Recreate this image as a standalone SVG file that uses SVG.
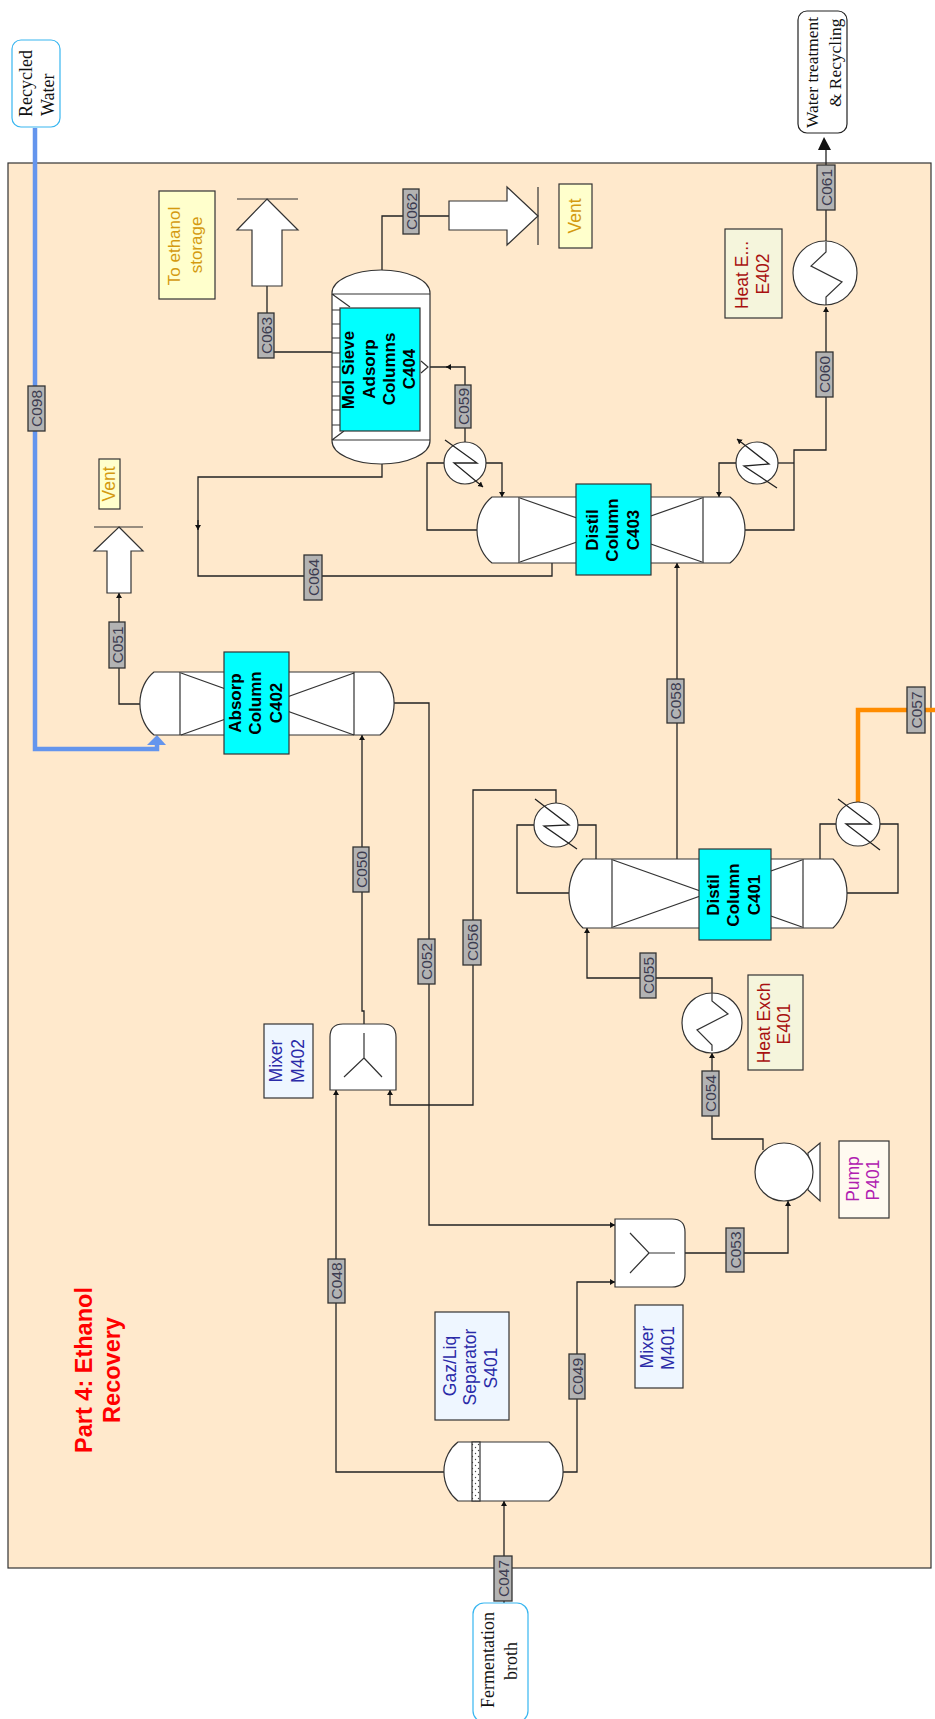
<svg xmlns="http://www.w3.org/2000/svg" width="935" height="1719" viewBox="0 0 935 1719">
<style>
.eq{fill:#fff;stroke:#333;stroke-width:1.2}
.ln{fill:none;stroke:#333;stroke-width:1.2}
.cn{fill:none;stroke:#222;stroke-width:1.3}
.ar{marker-end:url(#ah)}
.lb{fill:#b3b3b3;stroke:#333;stroke-width:1.3}
.tg{font:15.5px "Liberation Sans",Arial,sans-serif;fill:#3c3c50;text-anchor:middle}
.cy{fill:#0ff;stroke:#333;stroke-width:1.2}
.cyt{font:bold 17px "Liberation Sans",Arial,sans-serif;fill:#000;text-anchor:middle}
.nm{font:17.5px "Liberation Sans",Arial,sans-serif;text-anchor:middle}
.ter{font:18px "Liberation Serif","Times New Roman",serif;fill:#111}
.bx{stroke:#333;stroke-width:1.2}
.y{fill:#ffffcc}.yt{fill:#d49a10}
.g{fill:#f5f5dc}.gt{fill:#a81010}
.b{fill:#eef6ff}.bt{fill:#2a2aa8}
.p{fill:#fffaf0}.pt{fill:#b020b0}
</style>
<defs>
<marker id="ah" markerUnits="userSpaceOnUse" markerWidth="8" markerHeight="8" refX="5" refY="3" orient="auto"><path d="M0 0L5 3L0 6Z" fill="#111"/></marker>
<pattern id="mesh" width="6" height="6" patternUnits="userSpaceOnUse"><rect width="6" height="6" fill="#fff"/><circle cx="1.5" cy="1.5" r=".7" fill="#444"/><circle cx="4.5" cy="4.5" r=".7" fill="#444"/></pattern>
</defs>
<rect id="panel" x="8" y="163" width="923" height="1405" fill="#ffe9cc" stroke="#333" stroke-width="1.2"/>
<g id="connectors">
<path d="M35 128V749H157V742" fill="none" stroke="#6495ed" stroke-width="4.5"/>
<path d="M147 745L157 735L166 745Z" fill="#6495ed"/>
<path d="M858 803V710H935" fill="none" stroke="#ff8c00" stroke-width="4.5"/>
<path class="cn" d="M267 286V352H332"/>
<path class="cn" d="M382 270V216H449"/>
<path class="cn" d="M430 367H465V443"/>
<path class="cn ar" d="M450 367H446"/>
<path class="cn" d="M382 464V477H198V576H552V563"/>
<path class="cn ar" d="M198 520V530"/>
<path class="cn" d="M444 463H427V530H477"/>
<path class="cn ar" d="M486 463H502V497"/>
<path class="cn ar" d="M736 463H719V497"/>
<path class="cn" d="M778 463H794"/>
<path class="cn ar" d="M745 530H794V450H826V307"/>
<path class="cn" d="M826 242V148"/>
<path d="M818 150L824 137L831 150Z" fill="#111"/>
<path class="cn ar" d="M140 704H119V593"/>
<path class="cn ar" d="M394 703H429V1225H615"/>
<path class="cn ar" d="M364 1024V1011H362V735"/>
<path class="cn ar" d="M444 1472H336V1090"/>
<path class="cn ar" d="M563 1472H577V1282H615"/>
<path class="cn ar" d="M504 1603V1501"/>
<path class="cn ar" d="M556 803V790H473V1105H390V1090"/>
<path class="cn" d="M534 825H517V893H569"/>
<path class="cn" d="M578 825H596V859"/>
<path class="cn" d="M836 824H820V859"/>
<path class="cn" d="M880 824H898V893H847"/>
<path class="cn ar" d="M677 859V563"/>
<path class="cn ar" d="M712 992V978H587V928"/>
<path class="cn ar" d="M763 1150V1139H712V1053"/>
<path class="cn ar" d="M685 1253H788V1201"/>
<g id="stream-labels">
<rect class="lb" x="28" y="386" width="17" height="45"/><text class="tg" transform="translate(42,408.5) rotate(-90)">C098</text>
<rect class="lb" x="258" y="313" width="16" height="45"/><text class="tg" transform="translate(271.5,335.5) rotate(-90)">C063</text>
<rect class="lb" x="403" y="189" width="16" height="45"/><text class="tg" transform="translate(416.5,211.5) rotate(-90)">C062</text>
<rect class="lb" x="455" y="385" width="16" height="43"/><text class="tg" transform="translate(468.5,406.5) rotate(-90)">C059</text>
<rect class="lb" x="817" y="165" width="18" height="45"/><text class="tg" transform="translate(832,187.5) rotate(-90)">C061</text>
<rect class="lb" x="816" y="352" width="17" height="45"/><text class="tg" transform="translate(830,374.5) rotate(-90)">C060</text>
<rect class="lb" x="304" y="555" width="18" height="45"/><text class="tg" transform="translate(319,577.5) rotate(-90)">C064</text>
<rect class="lb" x="109" y="622" width="16" height="46"/><text class="tg" transform="translate(122.5,645) rotate(-90)">C051</text>
<rect class="lb" x="353" y="847" width="16" height="45"/><text class="tg" transform="translate(366.5,869.5) rotate(-90)">C050</text>
<rect class="lb" x="418" y="939" width="17" height="45"/><text class="tg" transform="translate(432,961.5) rotate(-90)">C052</text>
<rect class="lb" x="463" y="920" width="18" height="45"/><text class="tg" transform="translate(478,942.5) rotate(-90)">C056</text>
<rect class="lb" x="667" y="679" width="17" height="44"/><text class="tg" transform="translate(681,701) rotate(-90)">C058</text>
<rect class="lb" x="907" y="687" width="18" height="46"/><text class="tg" transform="translate(922,710) rotate(-90)">C057</text>
<rect class="lb" x="640" y="953" width="16" height="45"/><text class="tg" transform="translate(653.5,975.5) rotate(-90)">C055</text>
<rect class="lb" x="702" y="1071" width="17" height="45"/><text class="tg" transform="translate(716,1093.5) rotate(-90)">C054</text>
<rect class="lb" x="726" y="1228" width="18" height="44"/><text class="tg" transform="translate(741,1250) rotate(-90)">C053</text>
<rect class="lb" x="328" y="1259" width="17" height="44"/><text class="tg" transform="translate(342,1281) rotate(-90)">C048</text>
<rect class="lb" x="569" y="1354" width="16" height="45"/><text class="tg" transform="translate(582.5,1376.5) rotate(-90)">C049</text>
<rect class="lb" x="494" y="1556" width="18" height="45"/><text class="tg" transform="translate(509,1578.5) rotate(-90)">C047</text>
</g>
</g>
<g id="recycled-water">
<rect x="12" y="40" width="48" height="87" rx="9" fill="#fff" stroke="#38b6f0" stroke-width="1.2"/>
<text class="ter" transform="translate(32,117) rotate(-90)">Recycled</text>
<text class="ter" transform="translate(54,116) rotate(-90)">Water</text>
</g>
<g id="water-treatment">
<rect x="798" y="11" width="49" height="122" rx="9" fill="#fff" stroke="#222" stroke-width="1.2"/>
<text class="ter" style="font-size:17.4px" transform="translate(818,128) rotate(-90)">Water treatment</text>
<text class="ter" style="font-size:17.4px" transform="translate(841,107) rotate(-90)">&amp; Recycling</text>
</g>
<g id="fermentation-broth">
<rect x="473" y="1603" width="55" height="119" rx="11" fill="#fff" stroke="#38b6f0" stroke-width="1.2"/>
<text class="ter" transform="translate(494,1708) rotate(-90)">Fermentation</text>
<text class="ter" transform="translate(517,1680) rotate(-90)">broth</text>
</g>
<g id="title"><text font-family="'Liberation Sans',Arial,sans-serif" font-weight="bold" font-size="23.5" fill="#f00" text-anchor="middle" transform="translate(92,1370) rotate(-90)">Part 4: Ethanol</text>
<text font-family="'Liberation Sans',Arial,sans-serif" font-weight="bold" font-size="23.5" fill="#f00" text-anchor="middle" transform="translate(120,1370) rotate(-90)">Recovery</text></g>
<g id="to-ethanol-storage">
<rect class="bx y" x="159" y="191" width="56" height="108"/>
<text class="nm yt" style="font-size:17px" transform="translate(180,246) rotate(-90)">To ethanol</text>
<text class="nm yt" style="font-size:17px" transform="translate(202,245) rotate(-90)">storage</text>
<path class="eq" d="M267 199L298 230H282V286H252V230H237Z"/>
<path class="ln" d="M237 199H298"/>
</g>
<g id="vent-1">
<rect class="bx y" x="559" y="184" width="33" height="64"/>
<text class="nm yt" transform="translate(581,216) rotate(-90)">Vent</text>
<path class="eq" d="M538 216L507 187V201H449V230H507V245Z"/>
<path class="ln" d="M538 187V245"/>
</g>
<g id="vent-2">
<rect class="bx y" x="99" y="459" width="21" height="50"/>
<text class="nm yt" transform="translate(115,484) rotate(-90)">Vent</text>
<path class="eq" d="M119 527L143 551H131V593H107V551H94Z"/>
<path class="ln" d="M94 527H143"/>
</g>
<g id="C404">
<path class="eq" d="M332 293A49 23 0 0 1 430 293V441A49 23 0 0 1 332 441Z"/>
<path class="ln" d="M332 294H430M332 440H430M332 294L350 307M332 440L344 431M332 310H340M332 324H340M332 338H340M332 353H340M332 367H340M332 382H340M332 396H340M332 410H340M332 425H340M421 361L428 367L421 373"/>
<rect class="cy" x="340" y="308" width="80" height="123"/>
<text class="cyt" transform="translate(354,370) rotate(-90)">Mol Sieve</text>
<text class="cyt" transform="translate(375,369) rotate(-90)">Adsorp</text>
<text class="cyt" transform="translate(395,369) rotate(-90)">Columns</text>
<text class="cyt" transform="translate(415,369) rotate(-90)">C404</text>
</g>
<g id="C402">
<path class="eq" d="M154 672H380A32 38 0 0 1 380 735H154A32 38 0 0 1 154 672Z"/>
<path class="ln" d="M180 672V735M354 672V735M181 673L354 735M181 735L354 673"/>
<rect class="cy" x="224" y="652" width="65" height="102"/>
<text class="cyt" transform="translate(241,703) rotate(-90)">Absorp</text>
<text class="cyt" transform="translate(261,703) rotate(-90)">Column</text>
<text class="cyt" transform="translate(282,703) rotate(-90)">C402</text>
</g>
<g id="C403">
<path class="eq" d="M492 497H730A34.5 40 0 0 1 730 563H492A34.5 40 0 0 1 492 497Z"/>
<path class="ln" d="M519 497V563M703 497V563M520 498L702 562M520 562L702 498"/>
<rect class="cy" x="576" y="484" width="75" height="91"/>
<text class="cyt" transform="translate(598,530) rotate(-90)">Distil</text>
<text class="cyt" transform="translate(618,530) rotate(-90)">Column</text>
<text class="cyt" transform="translate(639,530) rotate(-90)">C403</text>
</g>
<g id="C401">
<path class="eq" d="M583 859H833A32.6 42 0 0 1 833 928H583A32.6 42 0 0 1 583 859Z"/>
<path class="ln" d="M612 859V928M803 859V928M613 860L802 927M613 927L802 860"/>
<rect class="cy" x="699" y="849" width="72" height="91"/>
<text class="cyt" transform="translate(719,895) rotate(-90)">Distil</text>
<text class="cyt" transform="translate(739,895) rotate(-90)">Column</text>
<text class="cyt" transform="translate(760,895) rotate(-90)">C401</text>
</g>
<g id="condenser-1">
<circle class="eq" cx="465" cy="463" r="21"/>
<path class="cn ar" d="M445 440L477 463H454L483 487"/>
</g>
<g id="condenser-2">
<circle class="eq" cx="757" cy="463" r="21"/>
<path class="cn ar" d="M777 488L744 466L769 464L737 439"/>
</g>
<g id="condenser-3">
<circle class="eq" cx="556" cy="825" r="22"/>
<path class="cn" d="M535 799L569 825L544 826L577 849"/>
</g>
<g id="condenser-4">
<circle class="eq" cx="858" cy="824" r="22"/>
<path class="cn" d="M838 799L871 824H846L880 850"/>
</g>
<g id="E402">
<rect class="bx g" x="725" y="229" width="57" height="89"/>
<text class="nm gt" transform="translate(748,275) rotate(-90)">Heat E...</text>
<text class="nm gt" transform="translate(769,274) rotate(-90)">E402</text>
<circle class="eq" cx="825" cy="273" r="32"/>
<path class="ln" d="M826 242V252L811 266L842 282L826 297V305"/>
</g>
<g id="E401">
<rect class="bx g" x="748" y="975" width="55" height="95"/>
<text class="nm gt" transform="translate(770,1023) rotate(-90)">Heat Exch</text>
<text class="nm gt" transform="translate(790,1024) rotate(-90)">E401</text>
<circle class="eq" cx="712" cy="1023" r="30"/>
<path class="ln" d="M712 992V1001L728 1014L697 1030L712 1045V1051"/>
</g>
<g id="P401">
<rect class="bx p" x="839" y="1141" width="50" height="77"/>
<text class="nm pt" transform="translate(859,1179) rotate(-90)">Pump</text>
<text class="nm pt" transform="translate(879,1180) rotate(-90)">P401</text>
<path class="eq" d="M808 1153L820 1143V1201L808 1190Z"/>
<circle class="eq" cx="784" cy="1172" r="29"/>
</g>
<g id="M402">
<rect class="bx b" x="264" y="1024" width="49" height="74"/>
<text class="nm bt" transform="translate(282,1061) rotate(-90)">Mixer</text>
<text class="nm bt" transform="translate(304,1061) rotate(-90)">M402</text>
<path class="eq" d="M330 1090V1037Q330 1024 343 1024H383Q396 1024 396 1037V1090Z"/>
<path class="ln" d="M364 1033V1058L344 1077M364 1058L382 1077"/>
</g>
<g id="M401">
<rect class="bx b" x="635" y="1305" width="48" height="83"/>
<text class="nm bt" transform="translate(653,1347) rotate(-90)">Mixer</text>
<text class="nm bt" transform="translate(674,1348) rotate(-90)">M401</text>
<path class="eq" d="M615 1219H672Q685 1219 685 1232V1274Q685 1287 672 1287H615Z"/>
<path class="ln" d="M675 1253H649L630 1233M649 1253L630 1273"/>
</g>
<g id="S401">
<rect class="bx b" x="435" y="1312" width="74" height="108"/>
<text class="nm bt" transform="translate(456,1366) rotate(-90)">Gaz/Liq</text>
<text class="nm bt" transform="translate(476,1367) rotate(-90)">Separator</text>
<text class="nm bt" transform="translate(497,1368) rotate(-90)">S401</text>
<path class="eq" d="M458 1442H549A33 36 0 0 1 549 1501H458A33 36 0 0 1 458 1442Z"/>
<rect x="472" y="1442" width="8" height="59" fill="url(#mesh)" stroke="#333" stroke-width="1.2"/>
</g>
</svg>
